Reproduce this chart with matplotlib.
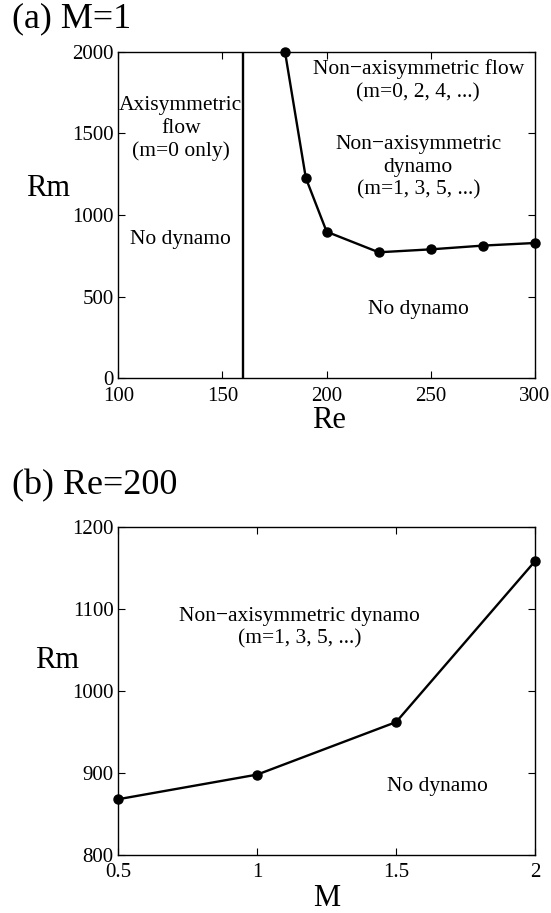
import matplotlib
matplotlib.use("Agg")
import matplotlib.pyplot as plt

plt.rcParams["font.family"] = ["Liberation Serif", "DejaVu Serif"]

# (a) M=1 : critical Rm vs Re
re_vals = [180, 190, 200, 225, 250, 275, 300]
rm_a = [2000, 1227, 898, 772, 790, 813, 829]
re_transition = 160

# (b) Re=200 : critical Rm vs M
m_vals = [0.5, 1.0, 1.5, 2.0]
rm_b = [868, 898, 962, 1158]

a_xticks = [100, 150, 200, 250, 300]
a_yticks = [0, 500, 1000, 1500, 2000]
b_xticks = [0.5, 1, 1.5, 2]
b_xticklabels = ["0.5", "1", "1.5", "2"]
b_yticks = [800, 900, 1000, 1100, 1200]

TICK_FS = 15
LABEL_FS = 22
ANNOT_FS = 15.5
TITLE_FS = 26


def style_axes(ax):
    ax.tick_params(direction="in", top=True, right=True, length=5, width=0.8,
                   labelsize=TICK_FS)
    ax.tick_params(axis="x", pad=6)
    ax.tick_params(axis="y", pad=3.5)
    for s in ax.spines.values():
        s.set_linewidth(1.0)


fig = plt.figure(figsize=(5.51, 9.13), dpi=100)

# panel (a)
ax1 = fig.add_axes([0.2147, 0.5856, 0.7563, 0.3577])
ax1.plot(re_vals, rm_a, color="black", lw=1.7, marker="o", ms=6.5, clip_on=False, zorder=3)
ax1.axvline(re_transition, color="black", lw=1.7)
ax1.set_xlim(100, 300)
ax1.set_ylim(0, 2000)
ax1.set_xticks(a_xticks)
ax1.set_yticks(a_yticks)
style_axes(ax1)
ax1.set_xlabel("Re", fontsize=LABEL_FS, va="center")
ax1.xaxis.set_label_coords(0.505, -0.128)
ax1.set_ylabel("Rm", fontsize=LABEL_FS, rotation=0, ha="center", va="center")
ax1.yaxis.set_label_coords(-0.169, 0.580)

ax1.text(130, 1530, "Axisymmetric\nflow\n(m=0 only)", ha="center", va="center",
         fontsize=ANNOT_FS, linespacing=1.25)
ax1.text(130, 848, "No dynamo", ha="center", va="center", fontsize=ANNOT_FS)
ax1.text(244, 1823, "Non\u2212axisymmetric flow\n(m=0, 2, 4, ...)", ha="center",
         va="center", fontsize=ANNOT_FS, linespacing=1.25)
ax1.text(244, 1293, "Non\u2212axisymmetric\ndynamo\n(m=1, 3, 5, ...)", ha="center",
         va="center", fontsize=ANNOT_FS, linespacing=1.25)
ax1.text(244, 421, "No dynamo", ha="center", va="center", fontsize=ANNOT_FS)

fig.text(0.021, 0.979, "(a) M=1", fontsize=TITLE_FS, ha="left", va="center")

# panel (b)
ax2 = fig.add_axes([0.2147, 0.0635, 0.7563, 0.3596])
ax2.plot(m_vals, rm_b, color="black", lw=1.7, marker="o", ms=6.5, clip_on=False, zorder=3)
ax2.set_xlim(0.5, 2)
ax2.set_ylim(800, 1200)
ax2.set_xticks(b_xticks)
ax2.set_xticklabels(b_xticklabels)
ax2.set_yticks(b_yticks)
style_axes(ax2)
ax2.set_xlabel("M", fontsize=LABEL_FS, va="center")
ax2.xaxis.set_label_coords(0.5, -0.131)
ax2.set_ylabel("Rm", fontsize=LABEL_FS, rotation=0, ha="center", va="center")
ax2.yaxis.set_label_coords(-0.147, 0.591)

ax2.text(1.153, 1077, "Non\u2212axisymmetric dynamo\n(m=1, 3, 5, ...)", ha="center",
         va="center", fontsize=ANNOT_FS, linespacing=1.25)
ax2.text(1.65, 884, "No dynamo", ha="center", va="center", fontsize=ANNOT_FS)

fig.text(0.021, 0.4675, "(b) Re=200", fontsize=TITLE_FS, ha="left", va="center")

fig.savefig("out.png", dpi=100)
plt.close(fig)
